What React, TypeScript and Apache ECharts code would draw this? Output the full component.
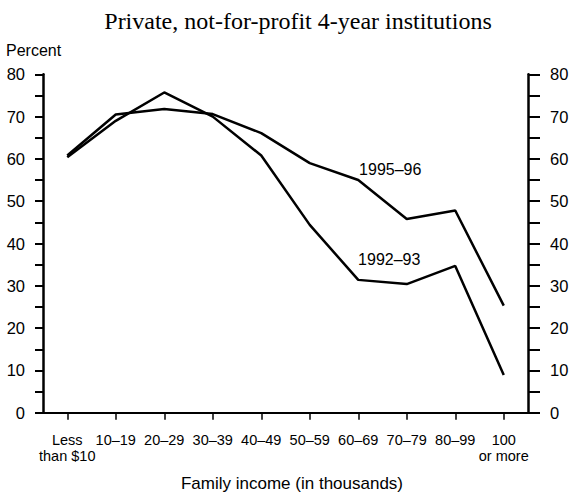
import React, { useEffect, useRef } from "react";
import * as echarts from "echarts";

const categories = [
  "Less\nthan $10",
  "10–19",
  "20–29",
  "30–39",
  "40–49",
  "50–59",
  "60–69",
  "70–79",
  "80–99",
  "100\nor more",
];
const series9293 = [60.4, 69.0, 75.7, 70.0, 60.8, 44.4, 31.4, 30.4, 34.7, 8.9];
const series9596 = [60.8, 70.5, 71.8, 70.6, 66.1, 59.0, 55.0, 45.8, 47.8, 25.3];
const seriesNames = ["1992–93", "1995–96"];
const yTicks = { min: 0, max: 80, interval: 10 };
const titleText = "Private, not-for-profit 4-year institutions";
const yAxisTitle = "Percent";
const xAxisTitle = "Family income (in thousands)";
const labelIndex = 6;

const SANS = "'Liberation Sans', Arial, Helvetica, sans-serif";
const SERIF = "'Liberation Serif', 'Times New Roman', serif";

function withLabel(values: number[], name: string, offset: [number, number]) {
  return values.map((v, i) =>
    i === labelIndex
      ? {
          value: v,
          label: {
            show: true,
            formatter: name,
            position: "inside",
            offset,
            color: "#000",
            fontFamily: SANS,
            fontSize: 16,
          },
        }
      : v
  );
}

export default function App() {
  const ref = useRef<HTMLDivElement>(null);
  useEffect(() => {
    if (!ref.current) return;
    const chart = echarts.init(ref.current, null, { renderer: "svg" });
    const yAxisCommon = {
      type: "value",
      min: yTicks.min,
      max: yTicks.max,
      interval: yTicks.interval,
      splitLine: { show: false },
      axisLine: { show: true, lineStyle: { color: "#000", width: 2.5 } },
      axisTick: { show: true, length: 8, lineStyle: { color: "#000", width: 2 } },
      minorTick: { show: true, splitNumber: 2, length: 8, lineStyle: { color: "#000", width: 2 } },
      minorSplitLine: { show: false },
      axisLabel: { color: "#000", fontFamily: SANS, fontSize: 16.5 },
    };
    chart.setOption({
      animation: false,
      backgroundColor: "#fff",
      grid: { left: 43, right: 47, top: 74.3, bottom: 80.3, containLabel: false },
      xAxis: {
        type: "category",
        data: categories,
        boundaryGap: true,
        axisLine: { show: true, lineStyle: { color: "#000", width: 2 } },
        axisTick: { show: true, alignWithLabel: true, length: 7, lineStyle: { color: "#000", width: 1.5 } },
        axisLabel: {
          color: "#000",
          fontFamily: SANS,
          fontSize: 14.5,
          lineHeight: 16,
          margin: 19,
          interval: 0,
        },
        splitLine: { show: false },
      },
      yAxis: [
        { ...yAxisCommon, position: "left", axisLabel: { ...yAxisCommon.axisLabel, margin: 18 } },
        { ...yAxisCommon, position: "right", axisTick: { ...yAxisCommon.axisTick, length: 12 }, minorTick: { ...yAxisCommon.minorTick, length: 12 }, axisLabel: { ...yAxisCommon.axisLabel, margin: 22 } },
      ],
      series: [
        {
          name: seriesNames[0],
          type: "line",
          yAxisIndex: 0,
          data: withLabel(series9293, seriesNames[0], [31, -20]),
          symbol: "circle",
          symbolSize: 0,
          showSymbol: true,
          lineStyle: { color: "#000", width: 2.5 },
          itemStyle: { color: "#000" },
        },
        {
          name: seriesNames[1],
          type: "line",
          yAxisIndex: 0,
          data: withLabel(series9596, seriesNames[1], [32, -11]),
          symbol: "circle",
          symbolSize: 0,
          showSymbol: true,
          lineStyle: { color: "#000", width: 2.5 },
          itemStyle: { color: "#000" },
        },
      ],
      graphic: [
        {
          type: "text",
          x: 298,
          y: 21,
          style: {
            text: titleText,
            fill: "#000",
            font: `24px ${SERIF}`,
            align: "center",
            verticalAlign: "middle",
          },
        },
        {
          type: "text",
          x: 6,
          y: 42,
          style: {
            text: yAxisTitle,
            fill: "#000",
            font: `16px ${SANS}`,
            align: "left",
            verticalAlign: "top",
          },
        },
        {
          type: "text",
          x: 292,
          y: 483,
          style: {
            text: xAxisTitle,
            fill: "#000",
            font: `17px ${SANS}`,
            align: "center",
            verticalAlign: "middle",
          },
        },
      ],
    });
    return () => chart.dispose();
  }, []);
  return <div ref={ref} style={{ width: 575, height: 493, position: "absolute", left: 0, top: 0 }} />;
}
